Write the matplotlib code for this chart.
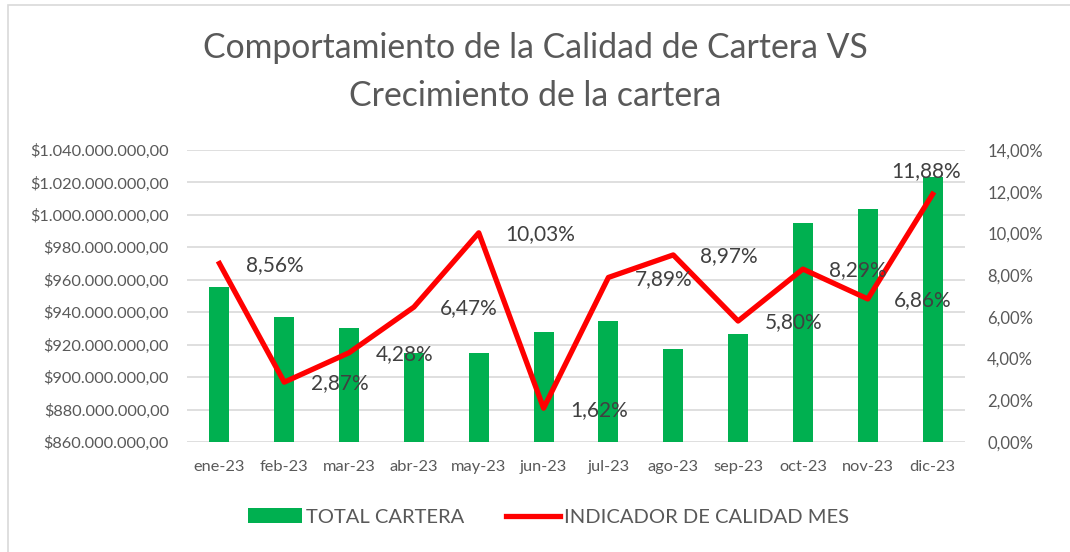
import numpy as np
import matplotlib.pyplot as plt
from matplotlib.ticker import FuncFormatter
from matplotlib.patches import Rectangle, Patch
from matplotlib.lines import Line2D

plt.rcParams['font.family'] = ['Lato', 'DejaVu Sans']

months = ['ene-23', 'feb-23', 'mar-23', 'abr-23', 'may-23', 'jun-23',
          'jul-23', 'ago-23', 'sep-23', 'oct-23', 'nov-23', 'dic-23']
total_cartera = [955.7e6, 937.2e6, 930.1e6, 914.9e6, 914.7e6, 928.0e6,
                 934.6e6, 917.3e6, 926.4e6, 995.2e6, 1003.4e6, 1023.5e6]
indicador = [8.56, 2.87, 4.28, 6.47, 10.03, 1.62, 7.89, 8.97, 5.80, 8.29, 6.86, 11.88]

gray = '#595959'
green = '#00B050'
red = '#FF0000'

def money(v, pos):
    s = '{:,.2f}'.format(v)
    s = s.replace(',', 'X').replace('.', ',').replace('X', '.')
    return '$' + s

def pct(v, pos):
    return '{:.2f}%'.format(v).replace('.', ',')

fig = plt.figure(figsize=(10.7, 5.52), dpi=100)
fig.patches.append(Rectangle((8 / 1070, -0.01), 1.2, 1 - 5 / 552 + 0.01,
                             transform=fig.transFigure, fill=False,
                             edgecolor='#D9D9D9', linewidth=1.2))
ax = fig.add_axes([187 / 1070, 1 - 442 / 552, (965 - 187) / 1070, 292 / 552])
x = np.arange(len(months))

ax.bar(x, total_cartera, width=0.31, color=green, zorder=2)
ax.set_ylim(860e6, 1040e6)
ax.set_yticks(np.arange(860e6, 1040e6 + 1, 20e6))
ax.yaxis.set_major_formatter(FuncFormatter(money))
ax.set_xlim(-0.5, len(months) - 0.5)
ax.set_xticks(x)
ax.set_xticklabels(months)
ax.grid(axis='y', color='#D9D9D9', linewidth=1.2, zorder=0)
ax.set_axisbelow(True)
for sp in ax.spines.values():
    sp.set_visible(False)
ax.tick_params(length=0, colors=gray, labelsize=11.8)
ax.tick_params(axis='x', pad=13)
ax.tick_params(axis='y', pad=13)

ax2 = ax.twinx()
ax2.plot(x, indicador, color=red, linewidth=3.8, zorder=3)
ax2.set_ylim(0, 14)
ax2.set_yticks(np.arange(0, 14.1, 2))
ax2.yaxis.set_major_formatter(FuncFormatter(pct))
for sp in ax2.spines.values():
    sp.set_visible(False)
ax2.tick_params(length=0, colors=gray, labelsize=12, pad=16)

for xi, v in zip(x, indicador):
    if xi == len(months) - 1:
        # last label sits above the point, as in the original
        ax2.annotate(pct(v, None), (xi, v), xytext=(-5, 17), textcoords='offset points',
                     ha='center', va='center', fontsize=15, color='#404040', zorder=4)
    else:
        ax2.annotate(pct(v, None), (xi, v), xytext=(19, -1), textcoords='offset points',
                     ha='left', va='center', fontsize=15, color='#404040', zorder=4)

fig.text(0.5, 1 - 48 / 552, 'Comportamiento de la Calidad de Cartera VS',
         ha='center', va='center', fontsize=24.3, color=gray)
fig.text(0.5, 1 - 96 / 552, 'Crecimiento de la cartera',
         ha='center', va='center', fontsize=24.3, color=gray)

handles = [Patch(facecolor=green, label='TOTAL CARTERA'),
           Line2D([0], [0], color=red, linewidth=3.8, label='INDICADOR DE CALIDAD MES')]
fig.legend(handles=handles, loc='center', bbox_to_anchor=(0.5126, 1 - 517 / 552),
           ncol=2, frameon=False, fontsize=14.5, labelcolor=gray,
           handlelength=2.65, columnspacing=2.1, handletextpad=0.2)

fig.savefig('out.png', dpi=100)
